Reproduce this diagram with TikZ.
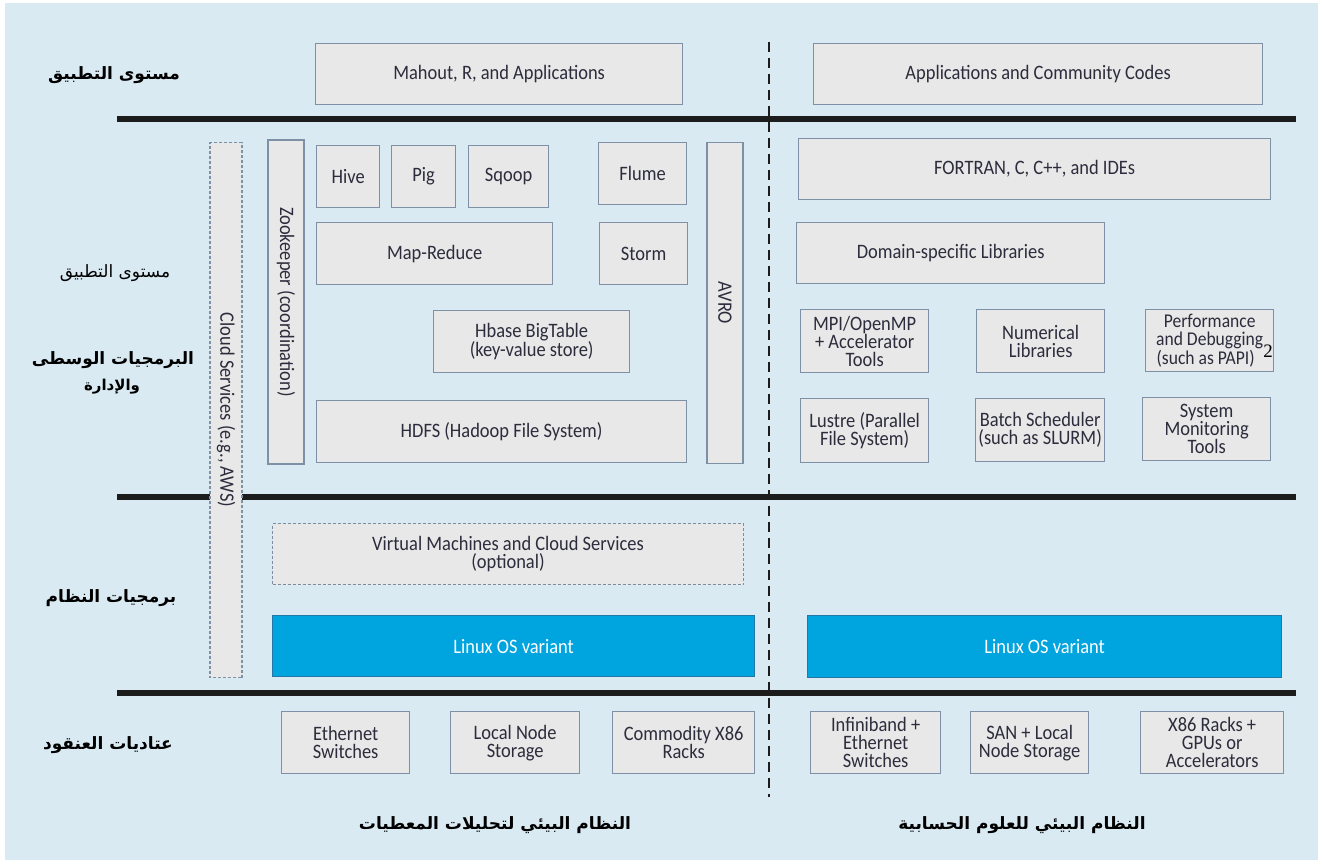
\documentclass[tikz,border=0pt]{standalone}
\usepackage{fontspec}
\TeXXeTstate=1
\newfontfamily\boxfont[FakeStretch=0.9]{Carlito}
\newfontfamily\arfont[Script=Arabic]{DejaVu Sans}
\newfontfamily\numfont{Liberation Serif}
\definecolor{bgblue}{HTML}{DAEAF3}
\definecolor{boxfill}{HTML}{E8E8E8}
\definecolor{boxedge}{HTML}{7E90A6}
\definecolor{txt}{HTML}{2C2C3C}
\definecolor{linuxblue}{HTML}{00A5DF}
\definecolor{linuxedge}{HTML}{2478A8}
\definecolor{rule}{HTML}{1C1C1C}
\tikzset{
  box/.style={draw=boxedge, fill=boxfill, line width=1.3pt, inner sep=1pt, align=center, text=txt,
    font=\boxfont\fontsize{20.5}{18}\selectfont, anchor=north west},
  rbox/.style={box, anchor=center, rotate=-90},
  dbox/.style={box, draw=boxedge!80!gray, line width=1pt, dash pattern=on 3pt off 2pt},
  linux/.style={box, fill=linuxblue, draw=linuxedge, text=white},
  thick rule/.style={draw=rule, line width=6pt},
  divider/.style={draw=rule, line width=2.6pt, dash pattern=on 10pt off 6pt},
  arlab/.style={font=\arfont\bfseries\fontsize{17}{20}\selectfont, text=black, align=center},
  arlabr/.style={font=\arfont\fontsize{17}{20}\selectfont, text=black, align=center},
}
\begin{document}
\begin{tikzpicture}[x=1pt,y=-1pt]
\useasboundingbox (0,0) rectangle (1322,863);
\fill[white] (0,0) rectangle (1322,863);
\fill[bgblue] (5,3) rectangle (1318,860);

% separating rules
\coordinate (r1a) at (117,119); \coordinate (r1b) at (1296,119);
\coordinate (r2a) at (117,497); \coordinate (r2b) at (1296,497);
\coordinate (r3a) at (117,693); \coordinate (r3b) at (1296,693);
\draw[thick rule] (r1a) -- (r1b);
\draw[thick rule] (r2a) -- (r2b);
\draw[thick rule] (r3a) -- (r3b);
\coordinate (dv1) at (769,42); \coordinate (dv2) at (769,797);
\draw[divider] (dv1) -- (dv2);

% application layer
\node[box, minimum width=367pt, minimum height=61pt] (mahout) at (315,43) {Mahout, R, and Applications};
\node[box, minimum width=449pt, minimum height=61pt] (appcodes) at (813,43) {Applications and Community Codes};

% left middleware
\node[dbox, rbox, minimum width=535pt, minimum height=32pt] (cloud) at (226,410) {Cloud Services (e.g., AWS)};
\node[rbox, minimum width=324pt, minimum height=36pt] (zoo) at (286,302) {Zookeeper (coordination)};
\node[box, minimum width=63pt, minimum height=62pt] (hive) at (316,145) {Hive};
\node[box, minimum width=64pt, minimum height=62pt] (pig) at (391,145) {Pig};
\node[box, minimum width=80pt, minimum height=62pt] (sqoop) at (468,145) {Sqoop};
\node[box, minimum width=88pt, minimum height=62pt] (flume) at (598,142) {Flume};
\node[box, minimum width=236pt, minimum height=62pt] (mapred) at (316,222) {Map-Reduce};
\node[box, minimum width=88pt, minimum height=62pt] (storm) at (599,222) {Storm};
\node[box, minimum width=196pt, minimum height=62pt] (hbase) at (433,310) {Hbase BigTable\\(key-value store)};
\node[box, minimum width=370pt, minimum height=62pt] (hdfs) at (316,400) {HDFS (Hadoop File System)};
\node[rbox, minimum width=321pt, minimum height=36pt] (avro) at (725,303) {AVRO};

% right middleware
\node[box, minimum width=472pt, minimum height=61pt] (fortran) at (798,138) {FORTRAN, C, C++, and IDEs};
\node[box, minimum width=308pt, minimum height=61pt] (domain) at (796,222) {Domain-specific Libraries};
\node[box, minimum width=128pt, minimum height=63pt] (mpi) at (800,309) {MPI/OpenMP\\+ Accelerator\\Tools};
\node[box, minimum width=128pt, minimum height=63pt] (numlib) at (976,309) {Numerical\\Libraries};
\node[box, minimum width=128pt, minimum height=62pt, font=\boxfont\fontsize{19.5}{17.5}\selectfont] (perf) at (1145,309) {Performance\\and Debugging\\(such as PAPI)\phantom{ll}};
\node[font=\numfont\fontsize{19}{19}\selectfont, text=black, inner sep=0pt] (perfnote) at (1268,351) {2};
\node[box, minimum width=128pt, minimum height=64pt] (lustre) at (800,398) {Lustre (Parallel\\File System)};
\node[box, minimum width=129pt, minimum height=63pt] (batch) at (975,398) {Batch Scheduler\\(such as SLURM)};
\node[box, minimum width=128pt, minimum height=63pt] (sysmon) at (1142,397) {System\\Monitoring\\Tools};

% system software
\node[dbox, minimum width=471pt, minimum height=61pt] (vm) at (272,523) {Virtual Machines and Cloud Services\\(optional)};
\node[linux, minimum width=482pt, minimum height=61pt] (linuxl) at (272,615) {Linux OS variant};
\node[linux, minimum width=474pt, minimum height=62pt] (linuxr) at (807,615) {Linux OS variant};

% hardware
\node[box, minimum width=128pt, minimum height=62pt] (eth) at (281,711) {Ethernet\\Switches};
\node[box, minimum width=129pt, minimum height=62pt] (localns) at (450,711) {Local Node\\Storage};
\node[box, minimum width=142pt, minimum height=62pt] (x86) at (612,711) {Commodity X86\\Racks};
\node[box, minimum width=130pt, minimum height=62pt] (infini) at (810,711) {Infiniband +\\Ethernet\\Switches};
\node[box, minimum width=118pt, minimum height=62pt] (san) at (970,711) {SAN + Local\\Node Storage};
\node[box, minimum width=143pt, minimum height=62pt] (x86gpu) at (1140,711) {X86 Racks +\\GPUs or\\Accelerators};

% left labels
\node[arlab] (lapp) at (114,75) {\beginR مستوى التطبيق\endR};
\node[arlabr] (lapp2) at (115,273) {\beginR مستوى التطبيق\endR};
\node[arlab] (lmid) at (113,360) {\beginR البرمجيات الوسطى\endR};
\node[arlab, font=\arfont\bfseries\fontsize{15}{18}\selectfont] (lmid2) at (112,387) {\beginR والإدارة\endR};
\node[arlab] (lsys) at (111,598) {\beginR برمجيات النظام\endR};
\node[arlab] (lhw) at (108,745) {\beginR عتاديات العنقود\endR};

% bottom labels
\node[arlab] (eco1) at (495,825) {\beginR النظام البيئي لتحليلات المعطيات\endR};
\node[arlab] (eco2) at (1022,825) {\beginR النظام البيئي للعلوم الحسابية\endR};
\end{tikzpicture}
\end{document}
